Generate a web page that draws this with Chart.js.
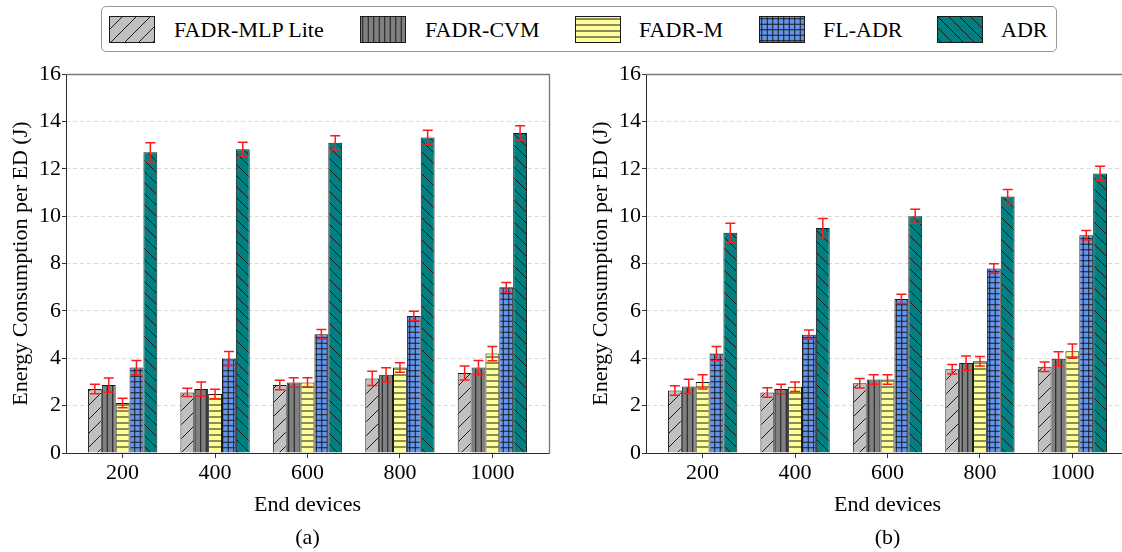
<!DOCTYPE html>
<html>
<head>
<meta charset="utf-8">
<title>Energy Consumption per ED</title>
<script src="https://cdn.jsdelivr.net/npm/chart.js@4.4.1/dist/chart.umd.min.js"></script>
<style>
  html, body { margin: 0; padding: 0; background: #fff; }
  body { width: 1122px; height: 552px; overflow: hidden; position: relative;
         font-family: 'Liberation Serif', 'Times New Roman', serif; }
  .panel { position: absolute; top: 60px; }
  #legend { position: absolute; left: 101px; top: 6px; width: 954px; height: 44px;
            border: 1px solid #999; border-radius: 5px; background: #fff; z-index: 2; }
  #legend canvas { position: absolute; top: 9px; }
  #legend span { position: absolute; top: 9px; font-size: 22px; line-height: 27px;
                 white-space: nowrap; color: #000; }
</style>
</head>
<body>
<div id="legend"></div>
<canvas id="panelA" class="panel" width="580" height="495" style="left:0px"></canvas>
<canvas id="panelB" class="panel" width="580" height="495" style="left:580px"></canvas>

<script>
// ---- data -------------------------------------------------------------
const endDevices = ['200', '400', '600', '800', '1000'];
const seriesNames = ['FADR-MLP Lite', 'FADR-CVM', 'FADR-M', 'FL-ADR', 'ADR'];

// panel (a): mean energy per ED (J) and error half-widths
const aMlpLite    = [2.70, 2.56, 2.87, 3.15, 3.38];
const aMlpLiteErr = [0.20, 0.17, 0.20, 0.30, 0.30];
const aCvm        = [2.87, 2.70, 2.98, 3.30, 3.61];
const aCvmErr     = [0.30, 0.30, 0.20, 0.30, 0.30];
const aM          = [2.11, 2.49, 2.98, 3.61, 4.20];
const aMErr       = [0.20, 0.20, 0.20, 0.20, 0.30];
const aFl         = [3.61, 3.99, 5.02, 5.79, 7.00];
const aFlErr      = [0.30, 0.30, 0.20, 0.20, 0.20];
const aAdr        = [12.70, 12.83, 13.10, 13.33, 13.52];
const aAdrErr     = [0.40, 0.30, 0.30, 0.30, 0.30];

// panel (b)
const bMlpLite    = [2.64, 2.56, 2.95, 3.54, 3.64];
const bMlpLiteErr = [0.20, 0.20, 0.20, 0.20, 0.20];
const bCvm        = [2.81, 2.70, 3.10, 3.80, 3.98];
const bCvmErr     = [0.30, 0.20, 0.20, 0.30, 0.30];
const bM          = [3.00, 2.80, 3.10, 3.88, 4.30];
const bMErr       = [0.30, 0.20, 0.20, 0.20, 0.30];
const bFl         = [4.20, 5.00, 6.51, 7.79, 9.20];
const bFlErr      = [0.30, 0.20, 0.20, 0.20, 0.20];
const bAdr        = [9.30, 9.50, 10.00, 10.83, 11.81];
const bAdrErr     = [0.40, 0.40, 0.30, 0.30, 0.30];

const yTicks = [0, 2, 4, 6, 8, 10, 12, 14, 16];

// ---- styles -----------------------------------------------------------
const FONT = "'Liberation Serif', 'Times New Roman', serif";
const seriesStyle = [
  { fill: '#c0c0c0', hatch: '/',  step: 14 },
  { fill: '#808080', hatch: '|',  step: 5.5 },
  { fill: '#ffff99', hatch: '-',  step: 6 },
  { fill: '#6495ed', hatch: '+',  step: 5.5 },
  { fill: '#008080', hatch: '\\', step: 11 },
];

// Builds a repeating hatch fill for a given context.
function makeHatch(ctx, style) {
  const reps = Number.isInteger(style.step) ? 1 : 2;
  const size = Math.round(style.step * reps);
  const tile = document.createElement('canvas');
  tile.width = size; tile.height = size;
  const g = tile.getContext('2d');
  g.fillStyle = style.fill;
  g.fillRect(0, 0, size, size);
  g.strokeStyle = '#1a1a1a';
  g.lineWidth = 1;
  g.beginPath();
  const k = style.hatch;
  for (let r = 0; r < reps; r++) {
    const p = r * style.step + style.step / 2;
    if (k === '|' || k === '+') { g.moveTo(p, 0); g.lineTo(p, size); }
    if (k === '-' || k === '+') { g.moveTo(0, p); g.lineTo(size, p); }
  }
  if (k === '/')  for (let r = -1; r <= 1; r++) { g.moveTo(r * size, size); g.lineTo(r * size + size, 0); }
  if (k === '\\') for (let r = -1; r <= 1; r++) { g.moveTo(r * size, 0); g.lineTo(r * size + size, size); }
  g.stroke();
  return ctx.createPattern(tile, 'repeat');
}

// ---- plugins ----------------------------------------------------------
const framePlugin = {
  id: 'frame',
  afterDatasetsDraw(chart) {
    const { ctx, chartArea: a } = chart;
    const L = Math.round(a.left) + 0.5, R = Math.round(a.right) + 0.5;
    const T = Math.round(a.top) + 0.5, B = Math.round(a.bottom) + 0.5;
    ctx.save();
    ctx.lineWidth = 1.4;
    ctx.strokeStyle = '#7a7a7a';
    ctx.beginPath();
    ctx.moveTo(L, T); ctx.lineTo(R, T); ctx.lineTo(R, B);
    ctx.stroke();
    ctx.lineWidth = 1;
    ctx.strokeStyle = '#2a2a2a';
    ctx.beginPath();
    ctx.moveTo(L, T); ctx.lineTo(L, B); ctx.lineTo(R, B);
    ctx.stroke();
    ctx.restore();
  }
};

const errorBarPlugin = {
  id: 'errorBars',
  afterDatasetsDraw(chart) {
    const { ctx } = chart;
    const yScale = chart.scales.y;
    ctx.save();
    ctx.strokeStyle = '#ff1a1a';
    ctx.lineWidth = 1.5;
    chart.data.datasets.forEach((ds, i) => {
      const meta = chart.getDatasetMeta(i);
      meta.data.forEach((bar, j) => {
        const v = ds.data[j].y, e = ds.errors[j];
        const top = yScale.getPixelForValue(v + e);
        const bot = yScale.getPixelForValue(v - e);
        const cap = 5;
        ctx.beginPath();
        ctx.moveTo(bar.x, top); ctx.lineTo(bar.x, bot);
        ctx.moveTo(bar.x - cap, top); ctx.lineTo(bar.x + cap, top);
        ctx.moveTo(bar.x - cap, bot); ctx.lineTo(bar.x + cap, bot);
        ctx.stroke();
      });
    });
    ctx.restore();
  }
};

// ---- charts -----------------------------------------------------------
function buildPanel(canvasId, values, errors, tag) {
  const ctx = document.getElementById(canvasId).getContext('2d');
  const datasets = seriesNames.map((name, s) => ({
    label: name,
    data: values[s].map((v, i) => ({ x: i, y: v })),
    errors: errors[s],
    backgroundColor: makeHatch(ctx, seriesStyle[s]),
    borderColor: '#1a1a1a',
    borderWidth: 1,
    categoryPercentage: 0.75,
    barPercentage: 1.0,
  }));
  return new Chart(ctx, {
    type: 'bar',
    data: { datasets },
    plugins: [framePlugin, errorBarPlugin],
    options: {
      responsive: false,
      animation: false,
      devicePixelRatio: 1,
      layout: { padding: { top: 14, right: 31, left: 0, bottom: 0 } },
      plugins: { legend: { display: false }, tooltip: { enabled: false } },
      scales: {
        x: {
          type: 'linear',
          min: -0.6125,
          max: 4.6125,
          offset: false,
          afterBuildTicks: (s) => { s.ticks = endDevices.map((_, i) => ({ value: i })); },
          afterFit: (s) => { s.height = 102; },
          grid: { display: true, drawOnChartArea: false, offset: false,
                  color: '#333', tickColor: '#333', tickLength: 5, tickWidth: 1 },
          border: { display: false },
          ticks: { callback: (v) => endDevices[v], autoSkip: false, maxRotation: 0,
                   padding: 2, color: '#000', font: { family: FONT, size: 22 } },
          title: { display: true, text: ['End devices', tag], color: '#000',
                   font: { family: FONT, size: 22, lineHeight: 1.5 },
                   padding: { top: 0, bottom: 0 } }
        },
        y: {
          min: 0,
          max: 16,
          afterBuildTicks: (s) => { s.ticks = yTicks.map((v) => ({ value: v })); },
          afterFit: (s) => { s.width = 66; },
          grid: { color: '#cfcfcf', lineWidth: 0.8, tickColor: '#333', tickLength: 4,
                  tickWidth: 1, tickBorderDash: [] },
          border: { display: false, dash: [4, 3] },
          ticks: { padding: 1, color: '#000', font: { family: FONT, size: 22 } },
          title: { display: true, text: 'Energy Consumption per ED (J)', color: '#000',
                   font: { family: FONT, size: 22, lineHeight: 1.2 },
                   padding: { top: 8, bottom: 0 } }
        }
      }
    }
  });
}

buildPanel('panelA',
  [aMlpLite, aCvm, aM, aFl, aAdr],
  [aMlpLiteErr, aCvmErr, aMErr, aFlErr, aAdrErr], '(a)');
buildPanel('panelB',
  [bMlpLite, bCvm, bM, bFl, bAdr],
  [bMlpLiteErr, bCvmErr, bMErr, bFlErr, bAdrErr], '(b)');

// ---- shared legend ----------------------------------------------------
const legendSwatchX = [7, 258, 473, 657, 835];
const legendTextX   = [72, 323, 537, 721, 899];
const legend = document.getElementById('legend');
seriesNames.forEach((name, s) => {
  const sw = document.createElement('canvas');
  sw.width = 46; sw.height = 27;
  sw.style.left = legendSwatchX[s] + 'px';
  const g = sw.getContext('2d');
  g.fillStyle = makeHatch(g, seriesStyle[s]);
  g.fillRect(0, 0, 46, 27);
  g.strokeStyle = '#1a1a1a';
  g.lineWidth = 1;
  g.strokeRect(0.5, 0.5, 45, 26);
  legend.appendChild(sw);
  const label = document.createElement('span');
  label.textContent = name;
  label.style.left = legendTextX[s] + 'px';
  legend.appendChild(label);
});
</script>
</body>
</html>
